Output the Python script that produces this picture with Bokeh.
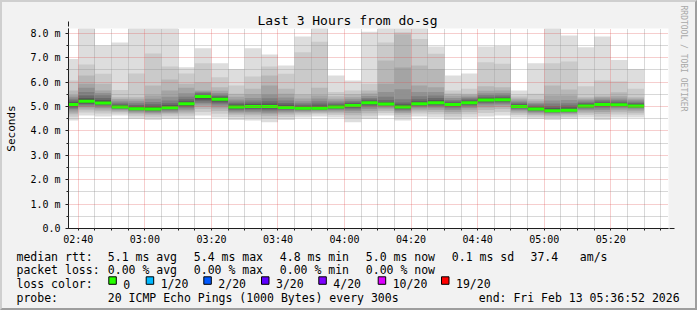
from bokeh.plotting import figure
from bokeh.layouts import column
from bokeh.models import (ColumnDataSource, FixedTicker, Arrow, NormalHead, Range1d,
                          Title)
from bokeh.core.properties import value
from bokeh.embed import file_html
from bokeh.resources import INLINE

# ---------------- data ----------------
title_text = "Last 3 Hours from do-sg"
y_label = "Seconds"
watermark = "RRDTOOL / TOBI OETIKER"
window_start = "02:37:03"
window_minutes = 180.3

bar_start = ["02:35", "02:40", "02:45", "02:50", "02:55", "03:00", "03:05", "03:10",
             "03:15", "03:20", "03:25", "03:30", "03:35", "03:40", "03:45", "03:50",
             "03:55", "04:00", "04:05", "04:10", "04:15", "04:20", "04:25", "04:30",
             "04:35", "04:40", "04:45", "04:50", "04:55", "05:00", "05:05", "05:10",
             "05:15", "05:20", "05:25"]
step_minutes = 5

median_ms = [5.08, 5.22, 5.15, 4.98, 4.91, 4.90, 4.95, 5.11, 5.41, 5.30, 4.98, 5.00,
             5.00, 4.96, 4.93, 4.93, 4.98, 5.04, 5.16, 5.10, 4.98, 5.11, 5.16, 5.08,
             5.16, 5.27, 5.28, 5.00, 4.90, 4.83, 4.85, 5.02, 5.08, 5.07, 5.02]

# 20 sorted ping round-trip times (ms) per 5-minute step
pings_ms = [
    [4.43, 4.58, 4.68, 4.76, 4.84, 4.90, 4.95, 4.99, 5.03, 5.06, 5.10, 5.14, 5.19, 5.25, 5.32, 5.40, 5.47, 5.66, 6.07, 6.95],
    [4.63, 4.76, 4.85, 4.92, 4.98, 5.04, 5.09, 5.13, 5.17, 5.20, 5.24, 5.29, 5.35, 5.45, 5.60, 5.77, 5.93, 6.27, 6.72, 8.30],
    [4.59, 4.72, 4.81, 4.88, 4.94, 5.00, 5.05, 5.09, 5.12, 5.14, 5.17, 5.21, 5.27, 5.35, 5.46, 5.56, 5.66, 5.93, 6.34, 7.50],
    [4.63, 4.72, 4.78, 4.83, 4.87, 4.90, 4.93, 4.95, 4.96, 4.97, 4.99, 5.02, 5.06, 5.11, 5.17, 5.24, 5.31, 5.38, 5.68, 7.63],
    [4.49, 4.60, 4.68, 4.74, 4.79, 4.83, 4.86, 4.88, 4.89, 4.90, 4.92, 4.95, 5.00, 5.06, 5.14, 5.22, 5.30, 5.38, 6.36, 8.30],
    [4.45, 4.56, 4.64, 4.70, 4.75, 4.79, 4.83, 4.86, 4.88, 4.89, 4.91, 4.95, 5.01, 5.09, 5.19, 5.32, 5.45, 5.86, 7.18, 8.30],
    [4.49, 4.60, 4.68, 4.74, 4.79, 4.84, 4.88, 4.91, 4.93, 4.94, 4.96, 5.00, 5.06, 5.14, 5.25, 5.40, 5.66, 6.11, 6.64, 8.30],
    [4.49, 4.62, 4.72, 4.80, 4.87, 4.93, 4.98, 5.03, 5.07, 5.10, 5.12, 5.16, 5.22, 5.30, 5.40, 5.55, 5.77, 5.93, 6.36, 6.61],
    [4.63, 4.78, 4.90, 5.00, 5.08, 5.15, 5.22, 5.28, 5.34, 5.39, 5.43, 5.46, 5.50, 5.54, 5.58, 5.62, 5.66, 6.00, 6.78, 7.39],
    [4.55, 4.70, 4.82, 4.92, 5.00, 5.08, 5.14, 5.20, 5.25, 5.29, 5.31, 5.34, 5.38, 5.43, 5.49, 5.56, 5.65, 5.79, 6.20, 6.78],
    [4.45, 4.57, 4.66, 4.73, 4.79, 4.84, 4.88, 4.92, 4.95, 4.97, 4.99, 5.03, 5.08, 5.14, 5.21, 5.29, 5.40, 5.52, 5.86, 6.54],
    [4.43, 4.55, 4.64, 4.71, 4.78, 4.84, 4.89, 4.93, 4.96, 4.99, 5.01, 5.05, 5.10, 5.17, 5.25, 5.35, 5.50, 5.73, 6.23, 7.39],
    [4.36, 4.50, 4.60, 4.68, 4.75, 4.81, 4.87, 4.92, 4.96, 4.99, 5.01, 5.06, 5.13, 5.22, 5.34, 5.50, 5.86, 6.27, 6.64, 7.13],
    [4.45, 4.57, 4.66, 4.73, 4.79, 4.84, 4.88, 4.91, 4.94, 4.95, 4.97, 5.01, 5.07, 5.15, 5.25, 5.37, 5.52, 5.73, 6.34, 6.68],
    [4.55, 4.64, 4.71, 4.77, 4.81, 4.85, 4.88, 4.90, 4.91, 4.92, 4.94, 4.97, 5.01, 5.07, 5.14, 5.22, 5.33, 5.49, 7.23, 7.87],
    [4.59, 4.68, 4.74, 4.79, 4.83, 4.86, 4.89, 4.91, 4.92, 4.92, 4.94, 4.98, 5.04, 5.12, 5.22, 5.33, 5.45, 5.77, 7.66, 8.30],
    [4.55, 4.65, 4.73, 4.79, 4.84, 4.88, 4.91, 4.94, 4.96, 4.97, 4.99, 5.02, 5.06, 5.11, 5.17, 5.24, 5.32, 5.42, 5.60, 6.27],
    [4.36, 4.52, 4.64, 4.74, 4.82, 4.88, 4.93, 4.97, 5.00, 5.03, 5.05, 5.08, 5.12, 5.17, 5.23, 5.30, 5.38, 5.50, 5.66, 6.07],
    [4.49, 4.62, 4.73, 4.82, 4.90, 4.97, 5.03, 5.08, 5.12, 5.15, 5.17, 5.20, 5.24, 5.29, 5.35, 5.43, 5.53, 5.66, 5.93, 8.07],
    [4.63, 4.74, 4.82, 4.89, 4.95, 5.00, 5.04, 5.07, 5.09, 5.10, 5.11, 5.14, 5.19, 5.27, 5.40, 5.60, 5.93, 6.89, 7.63, 8.30],
    [4.43, 4.56, 4.66, 4.74, 4.80, 4.85, 4.89, 4.93, 4.95, 4.97, 4.99, 5.03, 5.09, 5.17, 5.30, 5.71, 6.60, 7.96, 8.05, 8.30],
    [4.59, 4.71, 4.80, 4.87, 4.93, 4.98, 5.02, 5.06, 5.08, 5.10, 5.12, 5.16, 5.22, 5.30, 5.42, 5.60, 5.86, 6.68, 7.77, 8.30],
    [4.55, 4.68, 4.78, 4.86, 4.93, 4.99, 5.04, 5.09, 5.12, 5.15, 5.17, 5.21, 5.27, 5.35, 5.45, 5.60, 5.79, 6.54, 7.16, 7.46],
    [4.45, 4.58, 4.69, 4.78, 4.86, 4.93, 4.98, 5.02, 5.05, 5.07, 5.09, 5.12, 5.16, 5.21, 5.27, 5.35, 5.44, 5.54, 5.66, 6.27],
    [4.55, 4.68, 4.78, 4.87, 4.94, 5.00, 5.05, 5.09, 5.12, 5.15, 5.17, 5.20, 5.24, 5.29, 5.34, 5.40, 5.46, 5.52, 5.73, 6.36],
    [4.59, 4.74, 4.86, 4.96, 5.04, 5.11, 5.16, 5.21, 5.24, 5.26, 5.28, 5.31, 5.35, 5.40, 5.47, 5.55, 5.65, 5.83, 6.82, 7.46],
    [4.63, 4.78, 4.90, 4.99, 5.07, 5.13, 5.18, 5.22, 5.25, 5.27, 5.29, 5.32, 5.36, 5.41, 5.48, 5.56, 5.66, 5.79, 6.75, 7.48],
    [4.55, 4.65, 4.73, 4.80, 4.85, 4.89, 4.93, 4.96, 4.98, 4.99, 5.01, 5.04, 5.08, 5.13, 5.18, 5.24, 5.30, 5.37, 5.45, 5.66],
    [4.49, 4.58, 4.65, 4.71, 4.76, 4.80, 4.84, 4.87, 4.88, 4.89, 4.91, 4.94, 4.98, 5.03, 5.09, 5.15, 5.22, 5.30, 5.52, 6.78],
    [4.45, 4.53, 4.60, 4.66, 4.71, 4.75, 4.78, 4.80, 4.81, 4.82, 4.84, 4.88, 4.94, 5.02, 5.12, 5.25, 5.45, 5.86, 6.78, 8.30],
    [4.49, 4.57, 4.64, 4.69, 4.74, 4.77, 4.80, 4.82, 4.83, 4.84, 4.86, 4.90, 4.96, 5.04, 5.14, 5.27, 5.45, 5.70, 6.85, 7.91],
    [4.55, 4.65, 4.73, 4.80, 4.86, 4.91, 4.95, 4.98, 5.00, 5.01, 5.03, 5.06, 5.10, 5.15, 5.20, 5.26, 5.32, 5.38, 5.83, 7.43],
    [4.45, 4.58, 4.69, 4.78, 4.86, 4.93, 4.98, 5.02, 5.05, 5.07, 5.09, 5.12, 5.16, 5.21, 5.27, 5.33, 5.39, 5.45, 6.07, 7.87],
    [4.55, 4.67, 4.77, 4.85, 4.92, 4.97, 5.01, 5.04, 5.06, 5.07, 5.08, 5.11, 5.15, 5.20, 5.26, 5.33, 5.42, 5.59, 6.04, 6.91],
    [4.55, 4.66, 4.75, 4.83, 4.89, 4.94, 4.97, 5.00, 5.01, 5.02, 5.03, 5.06, 5.10, 5.15, 5.20, 5.26, 5.32, 5.38, 5.73, 6.54],
]

x_tick_labels = ["02:40", "03:00", "03:20", "03:40", "04:00", "04:20", "04:40", "05:00", "05:20"]
y_ticks = [0, 1, 2, 3, 4, 5, 6, 7, 8]
y_tick_labels = ["0.0", "1.0 m", "2.0 m", "3.0 m", "4.0 m", "5.0 m", "6.0 m", "7.0 m", "8.0 m"]
y_max = 8.2

legend_heads = ["median rtt:", "packet loss:", "loss color:", "probe:"]
rtt_stats = ["5.1 ms avg", "5.4 ms max", "4.8 ms min", "5.0 ms now", "0.1 ms sd", "37.4", "am/s"]
loss_stats = ["0.00 % avg", "0.00 % max", "0.00 % min", "0.00 % now"]
loss_color_labels = ["0", "1/20", "2/20", "3/20", "4/20", "10/20", "19/20"]
loss_colors = ["#26ff00", "#00b8ff", "#0059ff", "#5e00ff", "#7e00ff", "#dd00ff", "#ff0000"]
probe_text = "20 ICMP Echo Pings (1000 Bytes) every 300s"
end_text = "end: Fri Feb 13 05:36:52 2026"

# ---------------- layout / style ----------------
W, H = 697, 310
BW = 2                      # 3D border width
MONO = "DejaVu Sans Mono"
BACK = "#f2f2f2"
# image pixel positions of the plotting frame
FL, FR, FT, FBOT = 67, 668, 28, 228
SPLIT = 248                 # image y where the legend panel starts
LEG_FONT = "11.5px"
LEG_DY = -2.0               # vertical correction for legend glyphs


def hm(s):
    parts = [int(v) for v in s.split(":")]
    m = parts[0] * 60 + parts[1]
    if len(parts) > 2:
        m += parts[2] / 60.0
    return m


x0 = hm(window_start)
W1 = W - 2 * BW
H1 = SPLIT - BW
p = figure(width=W1, height=H1, output_backend="svg", toolbar_location=None,
           x_range=Range1d(x0, x0 + window_minutes), y_range=Range1d(0, y_max),
           min_border_left=FL - BW, min_border_right=(W - BW) - FR,
           min_border_top=FT - BW, min_border_bottom=SPLIT - FBOT)
p.frame_align = False
p.background_fill_color = "white"
p.border_fill_color = BACK
p.outline_line_color = None

# title
p.title.text = title_text
p.title.text_font = MONO
p.title.text_font_size = "13px"
p.title.text_font_style = "normal"
p.title.text_color = "black"
p.title.align = "left"
p.title.offset = 189
p.title.standoff = 1

# watermark on the right side
p.add_layout(Title(text=watermark, align="left", offset=-23, standoff=16,
                   vertical_align="top",
                   text_font=MONO, text_font_size="8px", text_font_style="normal",
                   text_color="#a8a8a8"), "right")

# smoke
grays = []
half = len(pings_ms[0]) // 2
for i in range(1, half + 1):
    c = int(190 / half * (half - i)) + 50
    grays.append("#%02x%02x%02x" % (c, c, c))

ql, qr, qb, qt, qc = [], [], [], [], []
for k, row in enumerate(pings_ms):
    s = hm(bar_start[k])
    n = len(row)
    for i in range(half):
        ql.append(s)
        qr.append(s + step_minutes)
        qb.append(row[i])
        qt.append(row[n - 1 - i])
        qc.append(grays[i])
p.quad(left="left", right="right", bottom="bottom", top="top", color="color",
       line_color=None,
       source=ColumnDataSource(dict(left=ql, right=qr, bottom=qb, top=qt, color=qc)))

# median line (loss 0 colour)
ms = [hm(s) for s in bar_start]
me = [m + step_minutes for m in ms]
p.segment(x0=ms, x1=me, y0=median_ms, y1=median_ms, line_width=3,
          line_color=loss_colors[0], line_cap="butt")

# axes
x_major = [hm(s) for s in x_tick_labels]
x_minor = [m for m in range(int(x0) + 1, int(x0 + window_minutes) + 1)
           if m % step_minutes == 0 and m not in x_major]
p.xaxis.ticker = FixedTicker(ticks=x_major, minor_ticks=x_minor)
p.xaxis.major_label_overrides = {m: s for m, s in zip(x_major, x_tick_labels)}
y_minor = [v + 0.5 for v in y_ticks[:-1]]
p.yaxis.ticker = FixedTicker(ticks=y_ticks, minor_ticks=y_minor)
p.yaxis.major_label_overrides = {v: s for v, s in zip(y_ticks, y_tick_labels)}

for ax in (p.xaxis[0], p.yaxis[0]):
    ax.axis_line_color = "#1f1f1f"
    ax.major_tick_line_color = "#1f1f1f"
    ax.minor_tick_line_color = "#1f1f1f"
    ax.major_label_text_font = MONO
    ax.major_label_text_font_size = "10px"
    ax.major_label_text_color = "black"
    ax.major_tick_in = 0
    ax.minor_tick_in = 0
p.yaxis.major_tick_out = 3
p.yaxis.minor_tick_out = 2
p.yaxis.major_label_standoff = 5
p.yaxis.axis_label = y_label
p.yaxis.axis_label_text_font = MONO
p.yaxis.axis_label_text_font_size = "11px"
p.yaxis.axis_label_text_font_style = "normal"
p.yaxis.axis_label_text_color = "black"
p.yaxis.axis_label_standoff = 9
p.xaxis.major_tick_out = 2
p.xaxis.minor_tick_out = 2
p.xaxis.major_label_standoff = 3

for g in (p.xgrid[0], p.ygrid[0]):
    g.level = "guide"
    g.grid_line_color = "#de4f4f"
    g.grid_line_alpha = 0.55
    g.grid_line_dash = "1 1"
    g.minor_grid_line_color = "#8f8f8f"
    g.minor_grid_line_alpha = 0.7
    g.minor_grid_line_dash = "1 1"

# axis arrows (frame-relative screen units)
p.add_layout(Arrow(x_start=0, y_start=0, x_end=0, y_end=FBOT - 21,
                   start_units="screen", end_units="screen", line_color="#1f1f1f",
                   end=NormalHead(size=5, fill_color="#801f1f", line_color="#801f1f")))
p.add_layout(Arrow(x_start=0, y_start=0, x_end=673 - FL, y_end=0,
                   start_units="screen", end_units="screen", line_color="#1f1f1f",
                   end=NormalHead(size=5, fill_color="#801f1f", line_color="#801f1f")))

# ---------------- legend panel (data coordinates = image pixels) ----------------
H2 = (H - BW) - SPLIT
q = figure(width=W1, height=H2, output_backend="svg", toolbar_location=None,
           x_range=Range1d(BW, W - BW), y_range=Range1d(H - BW, SPLIT),
           min_border=0, x_axis_type=None, y_axis_type=None, title_location=None)
q.frame_align = False
q.background_fill_color = BACK
q.border_fill_color = BACK
q.outline_line_color = None
q.xgrid.visible = False
q.ygrid.visible = False

rows_y = [258.3, 271.7, 285.7, 299.3]
col_x = [107.3, 193.3, 279.3, 365.3, 451.3, 530, 579.3]
sq_x = [108.3, 145.7, 203.3, 261.0, 318.3, 377.7, 441.0]
head_x = 16

tx, ty, tt = [], [], []
for head, yy in zip(legend_heads, rows_y):
    tx.append(head_x); ty.append(yy + LEG_DY); tt.append(head)
for t, xx in zip(rtt_stats, col_x):
    tx.append(xx); ty.append(rows_y[0] + LEG_DY); tt.append(t)
for t, xx in zip(loss_stats, col_x):
    tx.append(xx); ty.append(rows_y[1] + LEG_DY); tt.append(t)
for t, xx in zip(loss_color_labels, sq_x):
    tx.append(xx + 14.5); ty.append(rows_y[2] + LEG_DY); tt.append(t)
tx += [107.3, 478.3]
ty += [rows_y[3] + LEG_DY, rows_y[3] + LEG_DY]
tt += [probe_text, end_text]
q.text(x=tx, y=ty, text=tt, text_font=value(MONO), text_font_size=LEG_FONT,
       text_baseline="alphabetic", text_align="left", text_color="black")
q.quad(left=sq_x, right=[v + 7.5 for v in sq_x], top=[278.3 + LEG_DY] * len(sq_x),
       bottom=[285.8 + LEG_DY] * len(sq_x), fill_color=loss_colors, line_color="black",
       line_width=1)

layout = column(p, q, spacing=0,
                styles={"border-style": "solid", "border-width": "%dpx" % BW,
                        "border-color": "#cfcfcf #9e9e9e #9e9e9e #cfcfcf",
                        "background-color": BACK})

open("out.html", "w").write(file_html(layout, INLINE))
